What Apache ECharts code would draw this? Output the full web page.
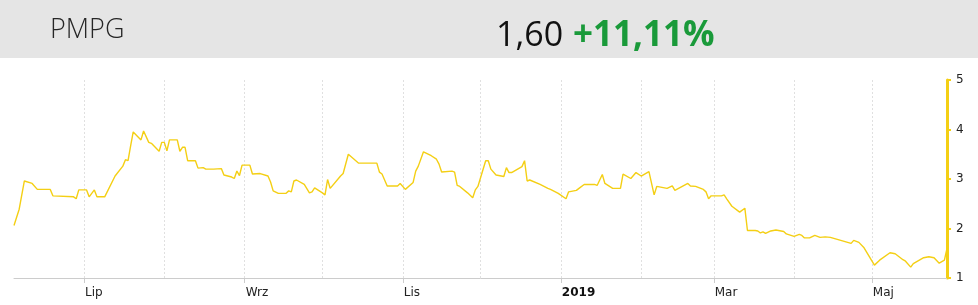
<!DOCTYPE html>
<html>
<head>
<meta charset="utf-8">
<script src="https://cdn.jsdelivr.net/npm/echarts@6/dist/echarts.min.js"></script>
<style>
html,body{margin:0;padding:0;background:#fff;}
#chart{width:978px;height:305px;}
</style>
</head>
<body>
<div id="chart"></div>
<script>
const ticker = 'PMPG';
const lastPrice = '1,60';
const changeText = '+11,11%';

const dates = [
'2018-06-04','2018-06-06','2018-06-08','2018-06-11','2018-06-13','2018-06-18','2018-06-19','2018-06-27','2018-06-28','2018-06-29',
'2018-07-02','2018-07-03','2018-07-05','2018-07-06','2018-07-09','2018-07-13','2018-07-16','2018-07-17','2018-07-18','2018-07-19',
'2018-07-20','2018-07-23','2018-07-24','2018-07-26','2018-07-27','2018-07-30','2018-07-31','2018-08-01','2018-08-02','2018-08-03',
'2018-08-06','2018-08-07','2018-08-08','2018-08-09','2018-08-10','2018-08-13','2018-08-14','2018-08-16','2018-08-17','2018-08-20',
'2018-08-23','2018-08-24','2018-08-27','2018-08-28','2018-08-29','2018-08-30','2018-08-31','2018-09-03','2018-09-04','2018-09-07',
'2018-09-10','2018-09-11','2018-09-12','2018-09-14','2018-09-17','2018-09-18','2018-09-19','2018-09-20','2018-09-21','2018-09-24',
'2018-09-26','2018-09-27','2018-09-28','2018-10-01','2018-10-02','2018-10-03','2018-10-04','2018-10-08','2018-10-09','2018-10-11',
'2018-10-15','2018-10-22','2018-10-23','2018-10-24','2018-10-26','2018-10-30','2018-10-31','2018-11-02','2018-11-05','2018-11-06',
'2018-11-07','2018-11-09','2018-11-12','2018-11-14','2018-11-15','2018-11-16','2018-11-20','2018-11-21','2018-11-22','2018-11-23',
'2018-11-26','2018-11-28','2018-11-29','2018-11-30','2018-12-03','2018-12-04','2018-12-05','2018-12-07','2018-12-10','2018-12-11',
'2018-12-12','2018-12-13','2018-12-17','2018-12-18','2018-12-19','2018-12-20','2018-12-24','2018-12-27','2018-12-28','2018-12-31',
'2019-01-03','2019-01-04','2019-01-07','2019-01-08','2019-01-10','2019-01-14','2019-01-15','2019-01-17','2019-01-18','2019-01-21',
'2019-01-24','2019-01-25','2019-01-28','2019-01-30','2019-02-01','2019-02-04','2019-02-06','2019-02-07','2019-02-11','2019-02-13',
'2019-02-14','2019-02-19','2019-02-20','2019-02-22','2019-02-25','2019-02-26','2019-02-27','2019-02-28','2019-03-04','2019-03-05',
'2019-03-06','2019-03-08','2019-03-11','2019-03-13','2019-03-14','2019-03-17','2019-03-18','2019-03-19','2019-03-20','2019-03-21',
'2019-03-23','2019-03-25','2019-03-28','2019-03-29','2019-04-01','2019-04-03','2019-04-04','2019-04-05','2019-04-07','2019-04-09',
'2019-04-11','2019-04-13','2019-04-15','2019-04-19','2019-04-23','2019-04-24','2019-04-26','2019-04-28','2019-05-02','2019-05-04',
'2019-05-08','2019-05-10','2019-05-13','2019-05-14','2019-05-16','2019-05-17','2019-05-21','2019-05-23','2019-05-25','2019-05-27',
'2019-05-29','2019-05-30'
];

const prices = [
2.06,2.39,2.96,2.91,2.79,2.79,2.66,2.64,2.60,2.78,
2.78,2.64,2.78,2.64,2.64,3.06,3.26,3.39,3.37,3.67,
3.95,3.79,3.97,3.74,3.72,3.56,3.74,3.74,3.57,3.79,
3.79,3.56,3.64,3.64,3.37,3.37,3.22,3.23,3.20,3.20,
3.21,3.08,3.04,3.01,3.16,3.07,3.28,3.28,3.10,3.11,
3.06,2.94,2.76,2.71,2.71,2.76,2.74,2.96,2.98,2.89,
2.72,2.74,2.82,2.72,2.68,2.99,2.81,3.06,3.11,3.50,
3.32,3.32,3.14,3.10,2.86,2.86,2.91,2.79,2.93,3.16,
3.26,3.55,3.47,3.40,3.30,3.14,3.16,3.14,2.87,2.85,
2.72,2.62,2.78,2.85,3.37,3.37,3.20,3.08,3.05,3.23,
3.13,3.13,3.25,3.37,2.96,2.98,2.89,2.81,2.79,2.71,
2.60,2.74,2.77,2.81,2.89,2.89,2.87,3.09,2.91,2.81,
2.81,3.10,3.01,3.13,3.06,3.15,2.68,2.85,2.81,2.86,
2.77,2.91,2.86,2.85,2.79,2.74,2.60,2.66,2.66,2.68,
2.60,2.45,2.33,2.41,1.96,1.96,1.95,1.91,1.93,1.90,
1.95,1.97,1.94,1.89,1.84,1.88,1.86,1.81,1.81,1.86,
1.82,1.83,1.82,1.76,1.70,1.76,1.72,1.61,1.26,1.36,
1.51,1.49,1.37,1.34,1.22,1.29,1.41,1.43,1.41,1.30,
1.36,1.60
];

const axisStart = '2018-06-04';
const axisEnd = '2019-05-30';
const gridMonths = ['2018-07-01','2018-08-01','2018-09-01','2018-10-01','2018-11-01','2018-12-01','2019-01-01','2019-02-01','2019-03-01','2019-04-01','2019-05-01'];
const labelMonths = ['2018-07-01','2018-09-01','2018-11-01','2019-01-01','2019-03-01','2019-05-01'];
const tickLabels = ['Lip','Wrz','Lis','2019','Mar','Maj'];
const boldLabels = ['2019'];

const toTs = s => { const p = s.split('-').map(Number); return Date.UTC(p[0], p[1]-1, p[2]); };
const seriesData = dates.map((d, i) => [toTs(d), prices[i]]);
const labelTs = labelMonths.map(toTs);

const chart = echarts.init(document.getElementById('chart'), null, {renderer: 'canvas'});
const yellow = '#f4cf14';
const option = {
  animation: false,
  backgroundColor: '#ffffff',
  graphic: [
    {type: 'rect', left: 0, top: 0, shape: {x: 0, y: 0, width: 978, height: 58}, style: {fill: '#e5e5e5'}, z: -1},
    {type: 'text', left: 50, top: 17, style: {text: ticker, fill: '#262626', font: '300 27px "Open Sans"'}},
    {type: 'text', left: 496, top: 19, style: {text: lastPrice, fill: '#111111', font: '400 34px "Open Sans"'}},
    {type: 'text', left: 573, top: 19, style: {text: changeText, fill: '#1a9a3a', font: '700 35px "Open Sans"'}}
  ],
  grid: {left: 14, right: 31, top: 80, bottom: 27, containLabel: false},
  xAxis: [
    {
      type: 'value', min: toTs(axisStart), max: toTs(axisEnd), position: 'bottom',
      axisLine: {show: true, lineStyle: {color: '#cccccc', width: 1}},
      axisTick: {show: true, customValues: labelTs, length: 5, lineStyle: {color: '#cccccc'}},
      axisLabel: {
        show: true, customValues: labelTs, align: 'left', margin: 9, padding: [0,0,0,1],
        fontFamily: 'DejaVu Sans', fontSize: 12, color: '#222222',
        formatter: (v) => { const i = labelTs.indexOf(v); const t = tickLabels[i] || ''; return boldLabels.includes(t) ? '{b|' + t + '}' : t; },
        rich: {b: {fontWeight: 'bold', fontFamily: 'DejaVu Sans', fontSize: 12, color: '#111111'}}
      },
      splitLine: {show: false}
    },
    {
      type: 'value', min: toTs(axisStart), max: toTs(axisEnd), position: 'bottom',
      axisLine: {show: false}, axisLabel: {show: false},
      axisTick: {show: false, customValues: gridMonths.map(toTs)},
      splitLine: {show: true, lineStyle: {color: '#e0e0e0', type: [2, 2], width: 1}}
    }
  ],
  yAxis: {
    type: 'value', position: 'right', min: 1, max: 5, interval: 1,
    axisLine: {show: true, lineStyle: {color: yellow, width: 3}},
    axisTick: {show: true, length: 4, lineStyle: {color: yellow, width: 2}},
    axisLabel: {show: true, margin: 9, fontFamily: 'DejaVu Sans', fontSize: 12, color: '#222222'},
    splitLine: {show: false}
  },
  series: [{
    type: 'line', xAxisIndex: 0, data: seriesData, showSymbol: false, symbol: 'none',
    lineStyle: {color: yellow, width: 1.4}, z: 3
  }]
};
chart.setOption(option);
</script>
</body>
</html>
